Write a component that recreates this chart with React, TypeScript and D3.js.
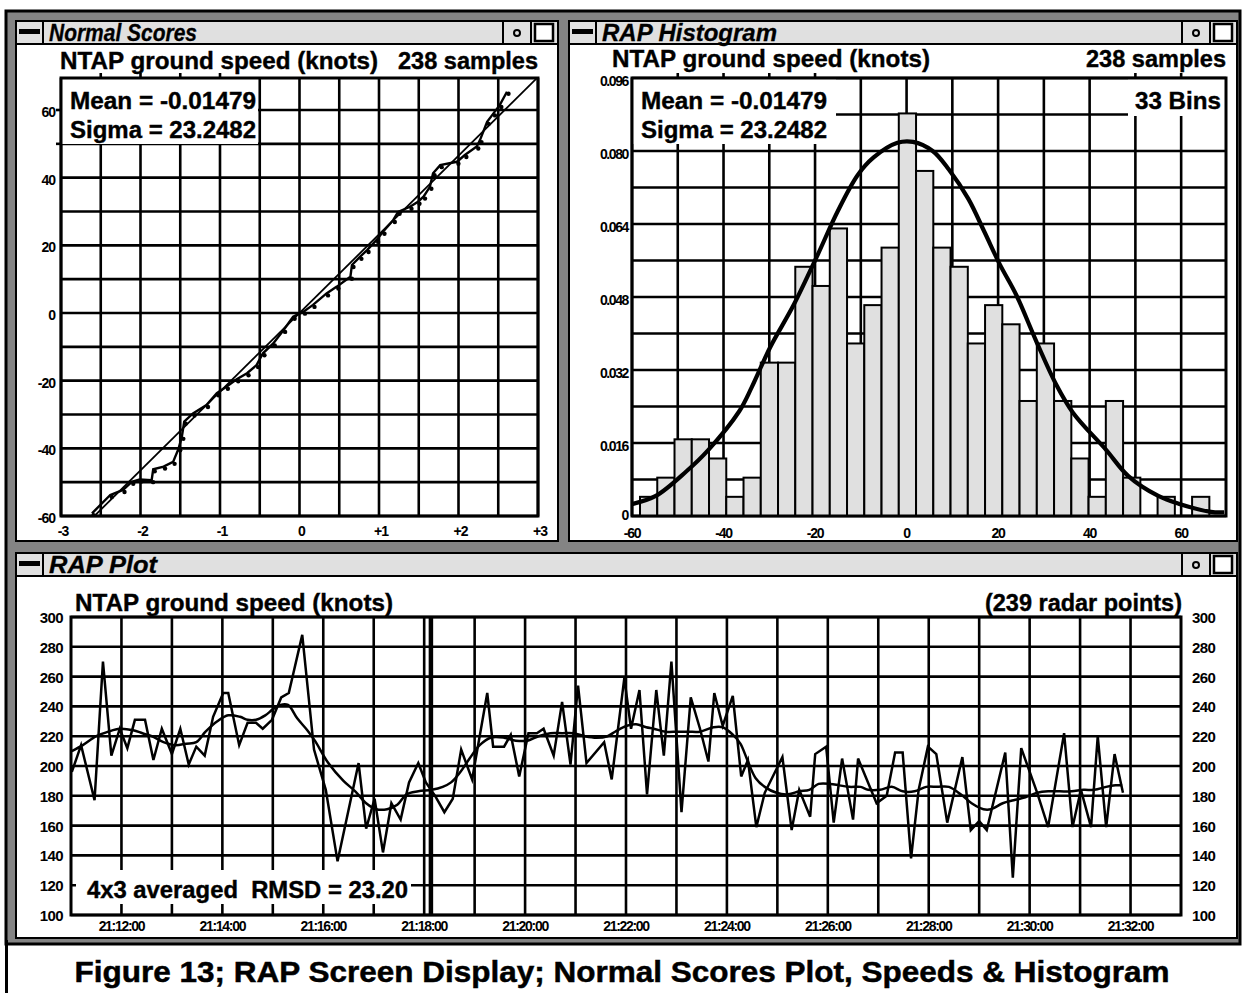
import React, { useEffect, useRef } from "react";
import * as d3 from "d3";

const FONT = "'Liberation Sans', Arial, Helvetica, sans-serif";

// ---- Normal scores plot (expected normal score vs sample value)
const nsZ = [-2.61, -2.38, -2.22, -2.11, -2.01, -1.86, -1.84, -1.71, -1.59, -1.52, -1.48, -1.45, -1.34, -1.17, -1.04, -0.92, -0.79, -0.66, -0.54, -0.46, -0.33, -0.2, -0.08, 0.05, 0.17, 0.34, 0.47, 0.64, 0.66, 0.76, 0.85, 0.97, 1.05, 1.18, 1.24, 1.39, 1.49, 1.56, 1.64, 1.68, 1.77, 1.98, 2.08, 2.23, 2.27, 2.36, 2.44, 2.52, 2.61];
const nsV = [-59.2, -53.8, -52.3, -49.9, -49.2, -49.4, -46.2, -45.4, -44, -40, -36.6, -32.1, -29.7, -27.2, -23.7, -21.8, -19.6, -17.8, -15.4, -11.9, -9, -5, -1.1, 0.4, 2.4, 5.8, 7.8, 10.7, 14.2, 16.6, 18.6, 21.6, 24, 27.5, 29.9, 31.4, 32.9, 34.4, 37.3, 41.3, 43.7, 44.7, 46.7, 49.2, 51.1, 56.5, 59, 61.5, 65.4];
const sampleMean = -0.01479;
const sampleSigma = 23.2482;
const nsXTicks = [-3, -2, -1, 0, 1, 2, 3];
const nsXLabels = ["-3", "-2", "-1", "0", "+1", "+2", "+3"];
const nsYTicks = [-60, -40, -20, 0, 20, 40, 60];

// ---- Histogram: 33 bins, counts of 238 samples
const binStart = -58.25;
const binWidth = 3.77;
const binCounts = [1, 2, 4, 4, 3, 1, 2, 8, 8, 13, 12, 15, 9, 11, 14, 21, 18, 14, 13, 9, 11, 10, 6, 9, 6, 3, 1, 6, 2, 0, 1, 0, 1];
const nSamples = 238;
// fitted curve
const curveX = [-60, -54.8, -48.1, -43.3, -36.6, -33.8, -29.8, -24.6, -19.4, -15.1, -10.7, -7.2, -2.0, 1.4, 5.7, 9.2, 13.5, 17.0, 20.4, 23.9, 28.3, 32.6, 36.4, 43.6, 48.4, 55.0, 59.8, 66.5, 69.4];
const curveY = [0.0026, 0.0044, 0.0098, 0.0145, 0.0229, 0.0283, 0.037, 0.0464, 0.0573, 0.0667, 0.0747, 0.0786, 0.0818, 0.082, 0.08, 0.076, 0.0695, 0.0623, 0.0551, 0.0486, 0.0384, 0.029, 0.0226, 0.0145, 0.0088, 0.0044, 0.0026, 0.0009, 0.0008];
const histXTicks = [-60, -40, -20, 0, 20, 40, 60];
const histYTicks = [0, 0.016, 0.032, 0.048, 0.064, 0.08, 0.096];

// ---- RAP plot: seconds after 21:00:00 and ground speed (knots)
const rawT = [661, 672, 688, 698, 708, 718, 727, 736, 748, 758, 768, 780, 790, 800, 809, 819, 829, 841, 847, 860, 870, 880, 888, 899, 910, 919, 935, 949, 963, 977, 1002, 1011, 1021, 1031, 1041, 1052, 1062, 1073, 1082, 1093, 1104, 1114, 1124, 1137, 1155, 1162, 1175, 1183, 1193, 1204, 1214, 1222, 1234, 1244, 1254, 1263, 1273, 1294, 1303, 1318, 1326, 1336, 1345, 1356, 1365, 1374, 1386, 1397, 1408, 1418, 1425, 1435, 1447, 1457, 1465, 1475, 1485, 1506, 1517, 1526, 1539, 1545, 1558, 1567, 1577, 1590, 1596, 1618, 1630, 1640, 1649, 1659, 1668, 1679, 1689, 1702, 1720, 1730, 1740, 1749, 1771, 1780, 1790, 1809, 1822, 1841, 1851, 1861, 1873, 1881, 1891, 1901, 1911];
const rawV = [196, 214, 177, 270, 207, 225, 212, 231, 231, 204, 225, 208, 225, 201, 213, 207, 233, 249, 249, 214, 229, 229, 225, 231, 246, 249, 288, 211, 184, 136, 202, 158, 178, 142, 175, 164, 189, 202, 189, 180, 169, 178, 211, 191, 249, 213, 213, 221, 193, 222, 222, 225, 207, 243, 201, 254, 202, 216, 191, 259, 225, 251, 181, 251, 207, 270, 169, 246, 225, 203, 249, 227, 247, 193, 204, 159, 182, 206, 157, 184, 166, 208, 213, 162, 205, 164, 205, 175, 180, 209, 209, 138, 184, 213, 208, 162, 206, 157, 163, 157, 209, 125, 212, 182, 159, 222, 159, 184, 159, 220, 159, 208, 182];
const avgT = [661, 674, 690, 704, 718, 734, 745, 756, 770, 784, 797, 809, 820, 834, 847, 861, 870, 880, 891, 900, 909, 918, 929, 941, 950, 966, 984, 998, 1011, 1023, 1036, 1048, 1059, 1073, 1089, 1102, 1112, 1123, 1134, 1146, 1159, 1175, 1189, 1203, 1216, 1230, 1244, 1257, 1271, 1285, 1298, 1307, 1321, 1332, 1344, 1353, 1367, 1381, 1394, 1408, 1424, 1435, 1447, 1456, 1465, 1474, 1485, 1499, 1513, 1526, 1538, 1549, 1563, 1574, 1586, 1599, 1608, 1622, 1636, 1649, 1663, 1677, 1690, 1704, 1718, 1731, 1745, 1754, 1768, 1781, 1795, 1809, 1822, 1836, 1850, 1864, 1877, 1891, 1902, 1910];
const avgV = [210, 214, 220, 223, 225, 224, 222, 220, 216, 214, 215, 216, 223, 230, 234, 233, 231, 231, 234, 238, 241, 241, 232, 224, 217, 202, 190, 183, 175, 171, 171, 174, 181, 183, 184, 186, 189, 196, 205, 214, 219, 219, 217, 217, 220, 222, 222, 222, 220, 219, 220, 223, 227, 228, 226, 225, 223, 223, 223, 223, 226, 226, 221, 215, 203, 192, 186, 182, 181, 183, 184, 188, 188, 187, 186, 186, 184, 184, 186, 183, 183, 186, 186, 186, 181, 175, 171, 171, 175, 177, 179, 182, 183, 183, 183, 184, 184, 186, 187, 187];
const cursorT = 1088;
const rapYTicks = [100, 120, 140, 160, 180, 200, 220, 240, 260, 280, 300];

const toTime = (s: number) => new Date(2000, 0, 1, 21, 0, s);

const App = () => {
  const ref = useRef<SVGSVGElement>(null);

  useEffect(() => {
    drawChart();
  }, []);

  const drawChart = () => {
    const svg = d3.select(ref.current);
    svg.selectAll("*").remove();

    const txt = (x: number, y: number, s: string, size: number, opts: any = {}) => {
      const t = svg.append("text")
        .attr("x", x).attr("y", y)
        .attr("font-family", FONT)
        .attr("font-weight", "bold")
        .attr("font-size", size)
        .attr("fill", "#000")
        .style("white-space", "pre")
        .text(s);
      if (opts.anchor) t.attr("text-anchor", opts.anchor);
      if (opts.italic) t.attr("font-style", "italic");
      if (opts.len) t.attr("textLength", opts.len).attr("lengthAdjust", "spacingAndGlyphs");
      if (opts.ls) t.attr("letter-spacing", opts.ls);
      if (opts.stroke) t.attr("stroke", "#000").attr("stroke-width", opts.stroke);
      return t;
    };

    // outer gray screen frame
    svg.append("rect").attr("x", 6).attr("y", 11).attr("width", 1234).attr("height", 933)
      .attr("fill", "#848484").attr("stroke", "#000").attr("stroke-width", 3);
    svg.append("rect").attr("x", 5).attr("y", 940).attr("width", 3).attr("height", 53).attr("fill", "#000");

    const drawWindow = (x: number, y: number, w: number, h: number, title: string, len: number) => {
      svg.append("rect").attr("x", x).attr("y", y).attr("width", w).attr("height", h)
        .attr("fill", "#fff").attr("stroke", "#000").attr("stroke-width", 2);
      svg.append("rect").attr("x", x).attr("y", y).attr("width", w).attr("height", 23)
        .attr("fill", "#e0e0e0").attr("stroke", "#000").attr("stroke-width", 2);
      svg.append("rect").attr("x", x).attr("y", y).attr("width", 27).attr("height", 23)
        .attr("fill", "#e0e0e0").attr("stroke", "#000").attr("stroke-width", 2);
      svg.append("rect").attr("x", x + 3).attr("y", y + 8).attr("width", 21).attr("height", 5).attr("fill", "#000");
      txt(x + 33, y + 20, title, 23, { italic: true, len, stroke: 0.3 });
      const r = x + w;
      svg.append("line").attr("x1", r - 55).attr("x2", r - 55).attr("y1", y).attr("y2", y + 23)
        .attr("stroke", "#000").attr("stroke-width", 2);
      svg.append("circle").attr("cx", r - 41).attr("cy", y + 12).attr("r", 3)
        .attr("fill", "none").attr("stroke", "#000").attr("stroke-width", 2);
      svg.append("line").attr("x1", r - 27).attr("x2", r - 27).attr("y1", y).attr("y2", y + 23)
        .attr("stroke", "#000").attr("stroke-width", 2);
      svg.append("rect").attr("x", r - 23).attr("y", y + 3).attr("width", 18).attr("height", 17)
        .attr("fill", "#fff").attr("stroke", "#000").attr("stroke-width", 2.5);
    };

    drawWindow(16, 21, 542, 520, "Normal Scores", 148);
    drawWindow(569, 21, 668, 520, "RAP Histogram", 175);
    drawWindow(16, 553, 1221, 385, "RAP Plot", 108);

    const GW = 2.6;
    const gridLine = (x1: number, y1: number, x2: number, y2: number, w = GW) =>
      svg.append("line").attr("x1", x1).attr("y1", y1).attr("x2", x2).attr("y2", y2)
        .attr("stroke", "#000").attr("stroke-width", w);

    // ================= Normal scores =================
    {
      const L = 61, R = 538, T = 78, B = 516;
      const x = d3.scaleLinear().domain([-3, 3]).range([L, R]);
      const y = d3.scaleLinear().domain([-60, 60]).range([B, 110]);
      const boxR = 258, boxB = 144;

      txt(60, 69, "NTAP ground speed (knots)", 24, { len: 318, stroke: 0.4 });
      txt(398, 69, "238 samples", 24, { len: 140, stroke: 0.4 });

      d3.range(-3, 3.001, 0.5).forEach((v) => {
        gridLine(x(v), T, x(v), B);
        if (x(v) > L + 2 && x(v) < boxR) gridLine(x(v), T - 5, x(v), T);
      });
      d3.range(-60, 60.001, 10).forEach((v) => {
        gridLine(L, y(v), R, y(v));
        if (y(v) > T && y(v) < boxB) gridLine(L - 5, y(v), L, y(v));
      });

      svg.append("defs").append("clipPath").attr("id", "nsClip")
        .append("rect").attr("x", L).attr("y", T).attr("width", R - L).attr("height", B - T);

      const g = svg.append("g").attr("clip-path", "url(#nsClip)");
      g.append("line")
        .attr("x1", x(-2.66)).attr("y1", y(sampleMean + sampleSigma * -2.66))
        .attr("x2", x(3)).attr("y2", y(sampleMean + sampleSigma * 3))
        .attr("stroke", "#000").attr("stroke-width", 1.8);
      const line = d3.line<number>().x((d, i) => x(nsZ[i])).y((d) => y(d));
      g.append("path").attr("d", line(nsV)).attr("fill", "none").attr("stroke", "#000").attr("stroke-width", 2.4);
      g.selectAll("circle.pt").data(nsV).enter().append("circle")
        .attr("cx", (d, i) => x(nsZ[i]) + 1.5).attr("cy", (d) => y(d) + 2)
        .attr("r", 2.2).attr("fill", "#000");

      svg.append("rect").attr("x", L).attr("y", T).attr("width", boxR - L).attr("height", boxB - T).attr("fill", "#fff");
      txt(70, 109, "Mean = -0.01479", 24, { len: 186, stroke: 0.4 });
      txt(70, 138, "Sigma = 23.2482", 24, { len: 186, stroke: 0.4 });

      svg.append("rect").attr("x", L).attr("y", T).attr("width", R - L).attr("height", B - T)
        .attr("fill", "none").attr("stroke", "#000").attr("stroke-width", 3);

      nsYTicks.forEach((v) => txt(55, y(v) + 7, String(v), 14, { anchor: "end", ls: -1 }));
      nsXTicks.forEach((v, i) => txt(x(v) + 2, 536, nsXLabels[i], 14, { anchor: "middle", ls: -1 }));
    }

    // ================= Histogram =================
    {
      const L = 632, R = 1226, T = 78, B = 516;
      const x = d3.scaleLinear().domain([-60, 69.8]).range([L, R]);
      const y = d3.scaleLinear().domain([0, 0.096]).range([B, T]);
      const boxR = 836, boxB = 144;
      const binsL = 1128, binsB = 116;

      txt(612, 67, "NTAP ground speed (knots)", 24, { len: 318, stroke: 0.4 });
      txt(1086, 67, "238 samples", 24, { len: 140, stroke: 0.4 });

      d3.range(-60, 60.001, 10).forEach((v) => {
        gridLine(x(v), T, x(v), B);
        if ((x(v) > L + 2 && x(v) < boxR) || x(v) > binsL) gridLine(x(v), T - 5, x(v), T);
      });
      d3.range(0, 0.0961, 0.008).forEach((v) => gridLine(L, y(v), R, y(v)));

      svg.selectAll("rect.bar").data(binCounts).enter().append("rect")
        .attr("x", (d, i) => x(binStart + i * binWidth))
        .attr("y", (d) => y(d / nSamples))
        .attr("width", x(binStart + binWidth) - x(binStart))
        .attr("height", (d) => B - y(d / nSamples))
        .attr("fill", "#e0e0e0").attr("stroke", "#000").attr("stroke-width", 2);

      const curve = d3.line<number>().x((d, i) => x(curveX[i])).y((d) => y(d)).curve(d3.curveCatmullRom);
      svg.append("path").attr("d", curve(curveY)).attr("fill", "none").attr("stroke", "#000").attr("stroke-width", 4.2);

      svg.append("rect").attr("x", L).attr("y", T).attr("width", boxR - L).attr("height", boxB - T).attr("fill", "#fff");
      txt(641, 109, "Mean = -0.01479", 24, { len: 186, stroke: 0.4 });
      txt(641, 138, "Sigma = 23.2482", 24, { len: 186, stroke: 0.4 });
      svg.append("rect").attr("x", binsL).attr("y", T).attr("width", R - binsL).attr("height", binsB - T).attr("fill", "#fff");
      txt(1221, 109, "33 Bins", 24, { anchor: "end", len: 86, stroke: 0.4 });

      svg.append("rect").attr("x", L).attr("y", T).attr("width", R - L).attr("height", B - T)
        .attr("fill", "none").attr("stroke", "#000").attr("stroke-width", 3);

      histYTicks.forEach((v) => txt(628, y(v) + (v === 0 ? 4 : 8), v === 0 ? "0" : d3.format(".3f")(v), 14, { anchor: "end", ls: -1.4 }));
      histXTicks.forEach((v) => txt(x(v), 538, String(v), 14, { anchor: "middle", ls: -1.2 }));
    }

    // ================= RAP plot =================
    {
      const L = 71, R = 1181, T = 617, B = 915;
      const x = d3.scaleTime().domain([toTime(660), toTime(1980)]).range([L, R]);
      const y = d3.scaleLinear().domain([100, 300]).range([B, T]);
      const boxL = 76, boxR = 411, boxT = 870, boxB = 904;

      txt(75, 611, "NTAP ground speed (knots)", 24, { len: 318, stroke: 0.4 });
      txt(1182, 611, "(239 radar points)", 24, { anchor: "end", len: 197, stroke: 0.4 });

      const minutes = d3.range(720, 1980, 60);
      minutes.forEach((s) => gridLine(x(toTime(s)), T, x(toTime(s)), B));
      rapYTicks.forEach((v) => gridLine(L, y(v), R, y(v)));

      svg.append("defs").append("clipPath").attr("id", "rapClip")
        .append("rect").attr("x", L).attr("y", T).attr("width", R - L).attr("height", B - T);
      const g = svg.append("g").attr("clip-path", "url(#rapClip)");

      gridLine(x(toTime(cursorT)), T, x(toTime(cursorT)), B, 4.5);

      const raw = d3.line<number>().x((d, i) => x(toTime(rawT[i]))).y((d) => y(d));
      g.append("path").attr("d", raw(rawV)).attr("fill", "none").attr("stroke", "#000").attr("stroke-width", 2.5);
      const avg = d3.line<number>().x((d, i) => x(toTime(avgT[i]))).y((d) => y(d)).curve(d3.curveCatmullRom);
      g.append("path").attr("d", avg(avgV)).attr("fill", "none").attr("stroke", "#000").attr("stroke-width", 2.5);

      svg.append("rect").attr("x", boxL).attr("y", boxT).attr("width", boxR - boxL).attr("height", boxB - boxT).attr("fill", "#fff");
      txt(87, 898, "4x3 averaged  RMSD = 23.20", 23, { len: 321, stroke: 0.4 });

      svg.append("rect").attr("x", L).attr("y", T).attr("width", R - L).attr("height", B - T)
        .attr("fill", "none").attr("stroke", "#000").attr("stroke-width", 3);

      rapYTicks.forEach((v) => {
        txt(63, y(v) + 6, String(v), 15, { anchor: "end", ls: -0.6 });
        txt(1192, y(v) + 6, String(v), 15, { ls: -0.6 });
      });
      const fmt = d3.timeFormat("%H:%M:%S");
      d3.range(720, 1921, 120).forEach((s) =>
        txt(x(toTime(s)), 931, fmt(toTime(s)), 14, { anchor: "middle", ls: -1.3 }));
    }

    // caption
    txt(622, 982, "Figure 13; RAP Screen Display; Normal Scores Plot, Speeds & Histogram", 30, { anchor: "middle", len: 1095, stroke: 0.5 });
  };

  return (
    <svg ref={ref} width={1244} height={993}
      style={{ position: "absolute", left: 0, top: 0, background: "#fff" }} />
  );
};

export default App;
